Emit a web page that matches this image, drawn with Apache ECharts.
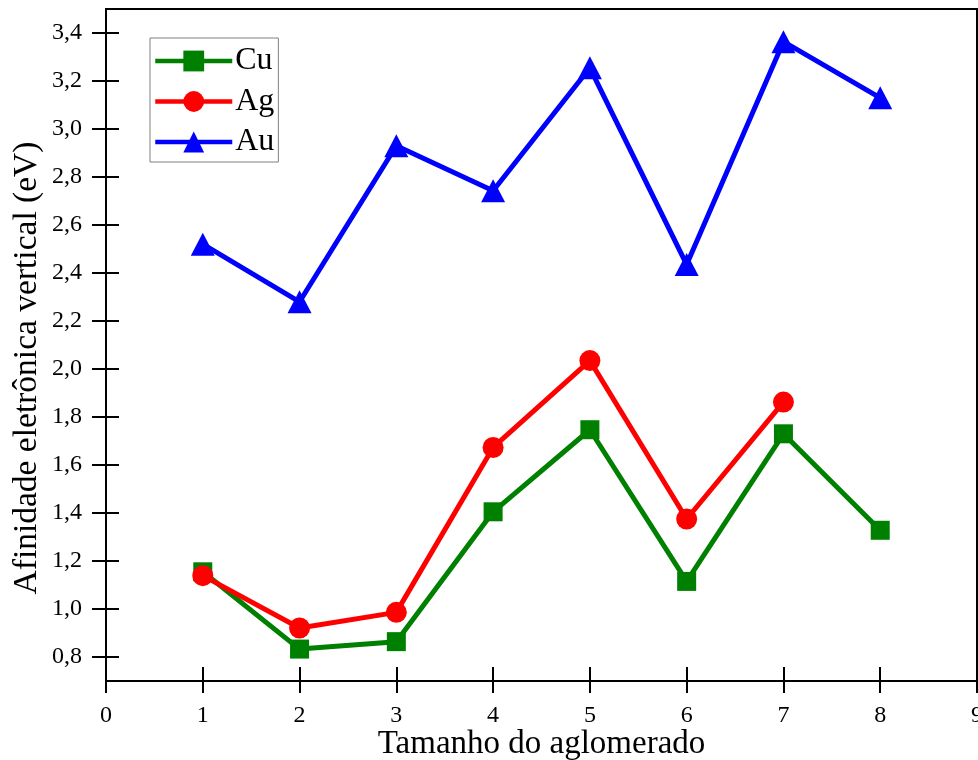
<!DOCTYPE html>
<html>
<head>
<meta charset="utf-8">
<script src="https://cdn.jsdelivr.net/npm/echarts@6/dist/echarts.min.js"></script>
<style>
html,body{margin:0;padding:0;background:#fff;}
#chart{width:978px;height:760px;}
</style>
</head>
<body>
<div id="chart"></div>
<script>
const sizes = [1, 2, 3, 4, 5, 6, 7, 8];
const cuValues = [1.155, 0.833, 0.864, 1.405, 1.747, 1.115, 1.730, 1.328];
const agValues = [1.139, 0.921, 0.986, 1.673, 2.035, 1.375, 1.862];
const auValues = [2.520, 2.280, 2.930, 2.743, 3.255, 2.435, 3.364, 3.130];
const yTicks = [0.8, 1.0, 1.2, 1.4, 1.6, 1.8, 2.0, 2.2, 2.4, 2.6, 2.8, 3.0, 3.2, 3.4];
const xTicks = [0, 1, 2, 3, 4, 5, 6, 7, 8, 9];
const xTitle = 'Tamanho do aglomerado';
const yTitle = 'Afinidade eletrônica vertical (eV)';

const FONT = '"Liberation Serif", "DejaVu Serif", serif';
const pairs = (vals) => vals.map((v, i) => [sizes[i], v]);

const chart = echarts.init(document.getElementById('chart'), null, {renderer: 'canvas'});

const xBase = {
  type: 'value', min: 0, max: 9, interval: 1, gridIndex: 0,
  splitLine: {show: false}
};
const yBase = {
  type: 'value', min: 0.7, max: 3.5, gridIndex: 0, position: 'left',
  splitLine: {show: false}
};

chart.setOption({
  animation: false,
  backgroundColor: '#fff',
  grid: {left: 106, right: 1, top: 9, bottom: 79, show: true, borderColor: '#000', borderWidth: 2,
    containLabel: false, outerBoundsMode: 'none'},
  legend: {
    left: 150, top: 38, orient: 'vertical',
    backgroundColor: '#fff',
    borderColor: '#808080', borderWidth: 1,
    padding: [7, 4, 4, 3],
    itemWidth: 77, itemHeight: 26, itemGap: 8.5,
    lineStyle: {width: 4.5},
    textStyle: {fontFamily: FONT, fontSize: 32, color: '#000', padding: [0, 0, 0, -2]},
    data: ['Cu', 'Ag', 'Au']
  },
  xAxis: [
    Object.assign({}, xBase, {
      position: 'bottom',
      name: xTitle, nameLocation: 'middle', nameGap: 47, nameMoveOverlap: false,
      nameTextStyle: {fontFamily: FONT, fontSize: 33, color: '#000'},
      axisLine: {show: true, onZero: false, lineStyle: {color: '#000', width: 2}},
      axisTick: {show: true, inside: false, length: 12, lineStyle: {color: '#000', width: 2}, customValues: xTicks},
      axisLabel: {show: true, margin: 23, fontFamily: FONT, fontSize: 24, color: '#000', customValues: xTicks}
    }),
    Object.assign({}, xBase, {
      position: 'bottom',
      axisLine: {show: false, onZero: false},
      axisTick: {show: true, inside: true, length: 14, lineStyle: {color: '#000', width: 2}, customValues: xTicks},
      axisLabel: {show: false}
    })
  ],
  yAxis: [
    Object.assign({}, yBase, {
      name: yTitle, nameLocation: 'middle', nameGap: 62, nameMoveOverlap: false,
      nameTextStyle: {fontFamily: FONT, fontSize: 33.5, color: '#000', padding: [0, 46, 0, 0]},
      axisLine: {show: true, onZero: false, lineStyle: {color: '#000', width: 2}},
      axisTick: {show: true, inside: false, length: 14, lineStyle: {color: '#000', width: 2}, customValues: yTicks},
      axisLabel: {show: true, margin: 24, fontFamily: FONT, fontSize: 24, color: '#000', customValues: yTicks,
        formatter: (v) => v.toFixed(1).replace('.', ',')}
    }),
    Object.assign({}, yBase, {
      axisLine: {show: false, onZero: false},
      axisTick: {show: true, inside: true, length: 13, lineStyle: {color: '#000', width: 2}, customValues: yTicks},
      axisLabel: {show: false}
    })
  ],
  series: [
    {
      name: 'Cu', type: 'line', xAxisIndex: 0, yAxisIndex: 0,
      data: pairs(cuValues),
      symbol: 'rect', symbolSize: 19,
      color: '#008000',
      lineStyle: {color: '#008000', width: 5},
      itemStyle: {color: '#008000'}
    },
    {
      name: 'Ag', type: 'line', xAxisIndex: 0, yAxisIndex: 0,
      data: pairs(agValues),
      symbol: 'circle', symbolSize: 21,
      color: '#ff0000',
      lineStyle: {color: '#ff0000', width: 5},
      itemStyle: {color: '#ff0000'}
    },
    {
      name: 'Au', type: 'line', xAxisIndex: 0, yAxisIndex: 0,
      data: pairs(auValues),
      symbol: 'triangle', symbolSize: [24, 23],
      color: '#0000ff',
      lineStyle: {color: '#0000ff', width: 5},
      itemStyle: {color: '#0000ff'}
    }
  ]
});
</script>
</body>
</html>
